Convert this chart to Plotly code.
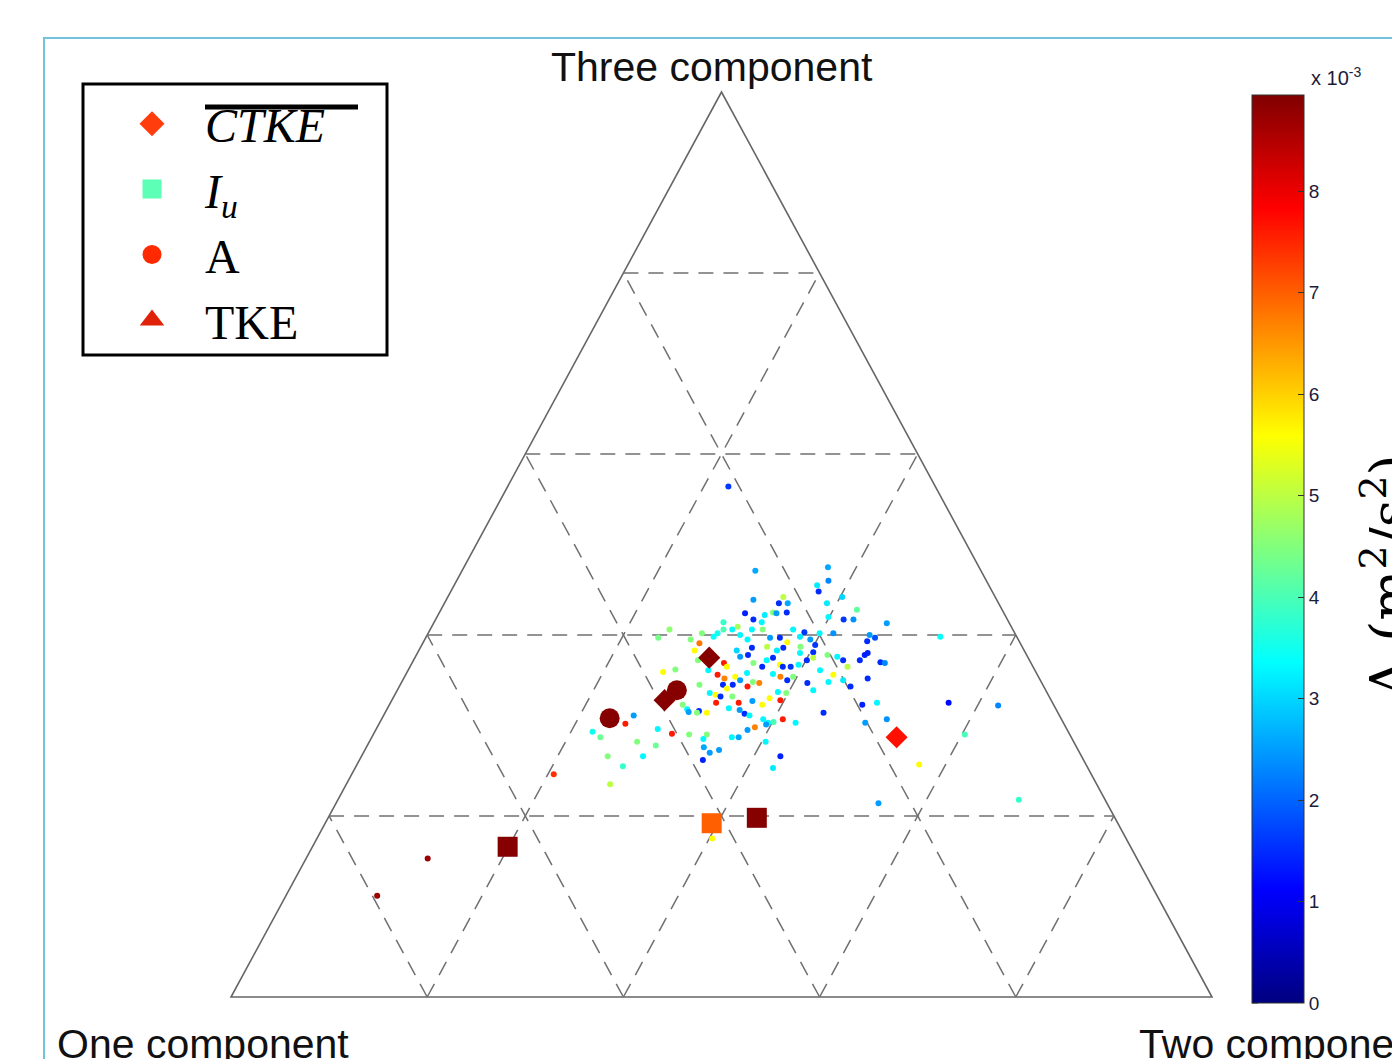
import plotly.graph_objects as go

W, H = 1392, 1059

# Anisotropy invariant map: barycentric weights of each measurement point.
# c2 = two-component weight, c3 = three-component weight (c1 = 1 - c2 - c3).
# a_val = A at each point, in units of 1e-3 m^2/s^2.
c2 = [0.299, 0.371, 0.379, 0.370, 0.375, 0.402, 0.342, 0.313, 0.341, 0.350,
      0.390, 0.312, 0.340, 0.344, 0.354, 0.333, 0.399, 0.416, 0.426, 0.424,
      0.324, 0.334, 0.295, 0.312, 0.308, 0.339, 0.328, 0.370, 0.383, 0.399,
      0.413, 0.295, 0.299, 0.319, 0.329, 0.351, 0.361, 0.381, 0.393, 0.371,
      0.401, 0.237, 0.244, 0.271, 0.282, 0.281, 0.279, 0.293, 0.338, 0.324,
      0.338, 0.331, 0.353, 0.365, 0.370, 0.387, 0.403, 0.390, 0.290, 0.318,
      0.348, 0.360, 0.365, 0.359, 0.376, 0.380, 0.388, 0.395, 0.406, 0.419,
      0.430, 0.420, 0.436, 0.435, 0.446, 0.438, 0.455, 0.457, 0.459, 0.496,
      0.482, 0.460, 0.495, 0.473, 0.447, 0.449, 0.414, 0.424, 0.401, 0.462,
      0.524, 0.452, 0.458, 0.451, 0.477, 0.482, 0.569, 0.621, 0.515, 0.603,
      0.573, 0.553, 0.694, 0.251, 0.255, 0.222, 0.233, 0.273, 0.251, 0.272,
      0.287, 0.294, 0.287, 0.304, 0.322, 0.340, 0.339, 0.344, 0.353, 0.361,
      0.350, 0.374, 0.427, 0.426, 0.206, 0.269, 0.261, 0.272, 0.305, 0.299,
      0.306, 0.309, 0.319, 0.328, 0.318, 0.320, 0.327, 0.333, 0.332, 0.348,
      0.355, 0.360, 0.367, 0.373, 0.368, 0.380, 0.384, 0.396, 0.398, 0.409,
      0.389, 0.396, 0.385, 0.395, 0.401, 0.424, 0.389, 0.329, 0.335, 0.339,
      0.318, 0.327, 0.337, 0.344, 0.355, 0.358, 0.365, 0.347, 0.374, 0.383,
      0.392, 0.396, 0.323, 0.306, 0.345, 0.367, 0.379, 0.404, 0.124, 0.093,
      0.403, 0.225]
c3 = [0.471, 0.475, 0.460, 0.455, 0.448, 0.442, 0.442, 0.439, 0.435, 0.435,
      0.435, 0.424, 0.425, 0.424, 0.425, 0.422, 0.420, 0.417, 0.417, 0.428,
      0.417, 0.414, 0.414, 0.409, 0.406, 0.406, 0.406, 0.406, 0.403, 0.402,
      0.402, 0.402, 0.406, 0.400, 0.395, 0.397, 0.397, 0.398, 0.395, 0.392,
      0.389, 0.397, 0.406, 0.395, 0.391, 0.383, 0.402, 0.398, 0.386, 0.383,
      0.378, 0.376, 0.387, 0.383, 0.386, 0.387, 0.381, 0.380, 0.372, 0.369,
      0.369, 0.372, 0.375, 0.365, 0.367, 0.365, 0.365, 0.367, 0.375, 0.378,
      0.376, 0.361, 0.356, 0.348, 0.365, 0.372, 0.372, 0.378, 0.380, 0.325,
      0.323, 0.343, 0.303, 0.352, 0.314, 0.350, 0.347, 0.339, 0.372, 0.413,
      0.398, 0.393, 0.397, 0.400, 0.370, 0.369, 0.325, 0.322, 0.307, 0.290,
      0.257, 0.214, 0.218, 0.302, 0.311, 0.293, 0.287, 0.282, 0.266, 0.255,
      0.266, 0.278, 0.296, 0.291, 0.290, 0.290, 0.285, 0.276, 0.270, 0.273,
      0.262, 0.287, 0.266, 0.253, 0.246, 0.235, 0.359, 0.362, 0.345, 0.323,
      0.318, 0.315, 0.316, 0.314, 0.314, 0.336, 0.334, 0.332, 0.325, 0.319,
      0.325, 0.317, 0.313, 0.311, 0.327, 0.323, 0.330, 0.328, 0.336, 0.307,
      0.307, 0.303, 0.298, 0.301, 0.304, 0.303, 0.337, 0.345, 0.341, 0.345,
      0.356, 0.352, 0.354, 0.350, 0.343, 0.348, 0.347, 0.358, 0.357, 0.354,
      0.350, 0.354, 0.365, 0.361, 0.332, 0.287, 0.295, 0.282, 0.153, 0.112,
      0.175, 0.564]
a_val = [2.6, 2.6, 2.3, 3.2, 1.5, 3.0, 5.0, 2.5, 1.5, 2.6,
         3.2, 1.4, 4.5, 2.5, 1.5, 3.2, 3.3, 1.6, 2.4, 4.2,
         1.5, 3.3, 3.8, 4.8, 3.3, 4.5, 3.3, 3.3, 1.6, 3.3,
         2.4, 3.5, 4.0, 3.3, 3.3, 2.5, 1.5, 3.2, 2.5, 5.6,
         1.6, 4.4, 4.6, 4.5, 6.8, 5.6, 4.5, 3.4, 1.5, 3.0,
         1.5, 2.5, 5.0, 3.2, 1.5, 4.5, 1.5, 3.3, 4.5, 7.6,
         4.5, 3.3, 1.5, 1.5, 5.6, 1.5, 1.6, 3.3, 5.0, 4.5,
         3.3, 3.3, 5.6, 3.3, 5.0, 1.5, 1.5, 1.4, 1.4, 3.3,
         1.4, 1.5, 2.5, 1.5, 1.5, 3.2, 1.5, 3.3, 1.5, 2.5,
         3.4, 1.5, 1.8, 2.5, 1.5, 2.3, 1.2, 2.3, 2.4, 4.0,
         5.6, 2.5, 3.8, 7.6, 2.5, 3.5, 4.3, 4.5, 4.5, 3.8,
         3.3, 4.3, 3.3, 7.6, 4.5, 4.5, 3.3, 2.6, 2.5, 2.5,
         1.4, 2.6, 1.4, 3.2, 7.4, 5.0, 5.6, 4.5, 4.5, 4.5,
         3.3, 2.5, 1.5, 5.6, 4.5, 3.3, 5.6, 1.5, 7.6, 3.3,
         7.6, 2.5, 1.5, 3.3, 2.5, 5.6, 5.6, 7.6, 4.5, 7.6,
         3.3, 3.3, 6.7, 2.5, 4.0, 3.3, 3.3, 1.5, 5.6, 1.5,
         7.6, 6.7, 5.6, 2.5, 7.6, 4.5, 6.7, 3.3, 3.3, 6.7,
         1.5, 4.5, 5.6, 3.3, 4.5, 3.3, 2.5, 3.3, 8.7, 8.7,
         5.6, 1.6]

# Highlighted statistics (same barycentric weights, same colour scale)
ctke_c2 = [0.300, 0.278, 0.535]
ctke_c3 = [0.375, 0.328, 0.287]
ctke_val = [8.9, 8.9, 7.7]
iu_c2 = [0.199, 0.394, 0.437]
iu_c3 = [0.166, 0.192, 0.198]
iu_val = [8.9, 7.0, 8.9]
amp_c2 = [0.232, 0.285]
amp_c3 = [0.308, 0.339]
amp_val = [8.9, 8.9]

cbar_ticks = [0, 1, 2, 3, 4, 5, 6, 7, 8]
cbar_max = 8.95
grid_levels = [0.2, 0.4, 0.6, 0.8]

JET = [[0.0, 'rgb(0,0,128)'], [0.125, 'rgb(0,0,255)'], [0.375, 'rgb(0,255,255)'],
       [0.625, 'rgb(255,255,0)'], [0.875, 'rgb(255,0,0)'], [1.0, 'rgb(128,0,0)']]

# colour bar placement (pixels)
CB_LEFT, CB_TOP, CB_LEN, CB_THICK = 1252, 95, 908, 52


def to_xy(w2, w3):
    """Barycentric (two-, three-component weights) -> map coordinates."""
    xs = [a + b / 2 for a, b in zip(w2, w3)]
    ys = list(w3)
    return xs, ys


fig = go.Figure()

px_, py_ = to_xy(c2, c3)
fig.add_trace(go.Scatter(
    x=px_, y=py_, mode='markers', showlegend=False, hoverinfo='skip',
    marker=dict(size=6, symbol='circle', color=a_val, colorscale=JET,
                cmin=0, cmax=cbar_max, line=dict(width=0),
                colorbar=dict(
                    x=CB_LEFT / W, xanchor='left', xpad=0,
                    y=1 - CB_TOP / H, yanchor='top', ypad=0,
                    lenmode='pixels', len=CB_LEN, thickness=CB_THICK,
                    outlinewidth=1, outlinecolor='#333333',
                    tickmode='array', tickvals=cbar_ticks,
                    ticktext=[str(t) for t in cbar_ticks],
                    ticks='inside', ticklen=6, tickcolor='#333333',
                    tickfont=dict(family='Liberation Sans', size=19, color='#1c1c3a'),
                ))))

for w2, w3, vals, sym, size in [(amp_c2, amp_c3, amp_val, 'circle', 20),
                                (iu_c2, iu_c3, iu_val, 'square', 20),
                                (ctke_c2, ctke_c3, ctke_val, 'diamond', 17)]:
    xs, ys = to_xy(w2, w3)
    fig.add_trace(go.Scatter(
        x=xs, y=ys, mode='markers', showlegend=False, hoverinfo='skip',
        marker=dict(size=size, symbol=sym, color=vals, colorscale=JET,
                    cmin=0, cmax=cbar_max, showscale=False, line=dict(width=0))))

# Legend entries
for name, sym, col in [('<i>CTKE</i>', 'diamond', '#ff3d0d'),
                       ('<i>I</i><sub><i>u</i></sub>', 'square', '#5cffb5'),
                       ('A', 'circle', '#ff2a00'),
                       ('TKE', 'triangle-up', '#e0220a')]:
    fig.add_trace(go.Scatter(x=[None], y=[None], mode='markers', name=name,
                             marker=dict(symbol=sym, color=col, size=16,
                                         line=dict(color=col, width=3))))

shapes = []
# Triangle outline
shapes.append(dict(type='path', path='M 0 0 L 1 0 L 0.5 1 Z', xref='x', yref='y',
                   line=dict(color='#666666', width=1.6), layer='below'))
# Dashed grid lines at constant c1, c2, c3
dash = dict(color='#707070', width=1.5, dash='15px,10px')
for k in grid_levels:
    # constant three-component weight
    shapes.append(dict(type='line', xref='x', yref='y', x0=k / 2, y0=k, x1=1 - k / 2, y1=k,
                       line=dash, layer='below'))
    # constant two-component weight
    shapes.append(dict(type='line', xref='x', yref='y', x0=k, y0=0,
                       x1=k + (1 - k) / 2, y1=1 - k, line=dash, layer='below'))
    # constant one-component weight
    shapes.append(dict(type='line', xref='x', yref='y', x0=1 - k, y0=0,
                       x1=(1 - k) / 2, y1=1 - k, line=dash, layer='below'))

# Colour bar tick marks on the left edge (mirroring the inside ticks on the right)
for t in cbar_ticks:
    ty = 1 - (CB_TOP + CB_LEN * (1 - t / cbar_max)) / H
    shapes.append(dict(type='line', xref='paper', yref='paper',
                       x0=CB_LEFT / W, x1=(CB_LEFT + 6) / W, y0=ty, y1=ty,
                       line=dict(color='#333333', width=1)))

# Legend frame and overbar on the first label
shapes.append(dict(type='rect', xref='paper', yref='paper',
                   x0=83 / W, x1=387 / W, y0=1 - 84 / H, y1=1 - 355 / H,
                   line=dict(color='black', width=3)))
shapes.append(dict(type='line', xref='paper', yref='paper',
                   x0=205 / W, x1=358 / W, y0=1 - 107 / H, y1=1 - 107 / H,
                   line=dict(color='black', width=5)))
# Outer light-blue frame
shapes.append(dict(type='rect', xref='paper', yref='paper',
                   x0=44 / W, x1=1.05, y0=1 - 38 / H, y1=-0.05,
                   line=dict(color='#74c3dc', width=2)))

label_font = dict(family='Liberation Sans', size=41, color='#111111')
annotations = [
    dict(text='Three component', x=712 / W, y=1 - 67 / H, xref='paper', yref='paper',
         xanchor='center', yanchor='middle', showarrow=False, font=label_font),
    dict(text='One component', x=55 / W, y=1 - 1044 / H, xref='paper', yref='paper',
         xanchor='left', yanchor='middle', showarrow=False, font=label_font),
    dict(text='Two component', x=1137 / W, y=1 - 1044 / H, xref='paper', yref='paper',
         xanchor='left', yanchor='middle', showarrow=False, font=label_font),
    dict(text='x 10<sup>-3</sup>', x=1336 / W, y=1 - 76 / H, xref='paper', yref='paper',
         xanchor='center', yanchor='middle', showarrow=False,
         font=dict(family='Liberation Sans', size=20, color='#1c1c3a')),
    dict(text='A (m<sup>2</sup>/s<sup>2</sup>)', x=1386 / W, y=1 - 577 / H,
         xref='paper', yref='paper', xanchor='center', yanchor='middle',
         textangle=-90, showarrow=False,
         font=dict(family='DejaVu Serif', size=54, color='black')),
]

fig.update_layout(
    width=W, height=H, margin=dict(l=0, r=0, t=0, b=0),
    paper_bgcolor='white', plot_bgcolor='white',
    xaxis=dict(range=[-231 / 981, 1161 / 981], visible=False, fixedrange=True),
    yaxis=dict(range=[-62 / 905, 997 / 905], visible=False, fixedrange=True),
    shapes=shapes, annotations=annotations,
    showlegend=True,
    legend=dict(x=99 / W, y=1 - 86 / H, xanchor='left', yanchor='top',
                bgcolor='rgba(0,0,0,0)', borderwidth=0, itemwidth=96,
                tracegroupgap=0, itemsizing='trace',
                font=dict(family='Liberation Serif', size=48, color='black')),
)

fig.write_html('out.html')
